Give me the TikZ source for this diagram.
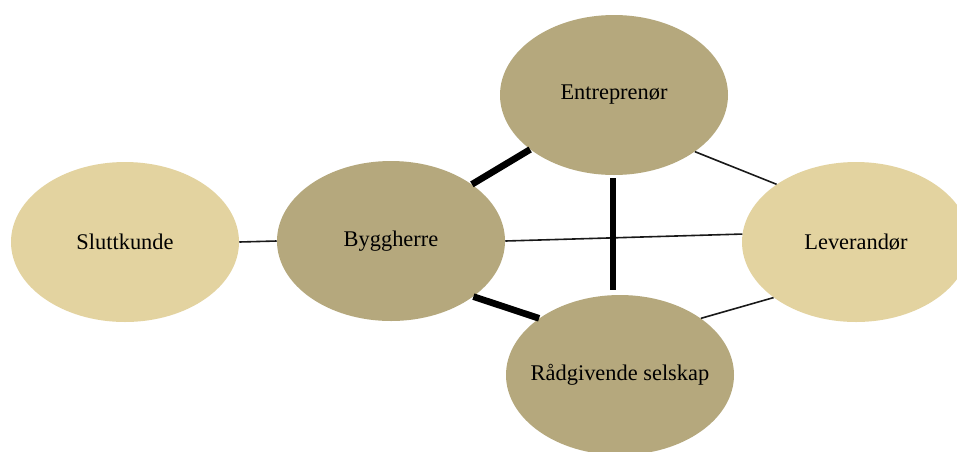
\documentclass[tikz,border=0pt]{standalone}
\usepackage{fontspec}
\setmainfont{Liberation Serif}
\usetikzlibrary{shapes.geometric}
\definecolor{darktan}{RGB}{181,168,125}
\definecolor{lighttan}{RGB}{227,211,160}
\newcommand{\zw}[1]{\makebox[0pt]{#1}}
\tikzset{
  actor/.style={ellipse, minimum width=171pt, minimum height=120pt, inner sep=0pt,
    font=\fontsize{16.8}{20}\selectfont, text=black},
  dark/.style={actor, fill=darktan},
  light/.style={actor, fill=lighttan},
  thinlink/.style={draw=black!90, line width=1.2pt},
  thicklink/.style={draw=black, line width=5pt}
}
\begin{document}
\begin{tikzpicture}[x=0.75pt, y=-0.75pt]
\clip (0,0) rectangle (957,451);
\fill[white] (0,0) rectangle (957,451);
\node[light] (S) at (125,242) {\zw{Sluttkunde}};
\node[dark] (B) at (391,241) {\zw{Byggherre}};
\node[dark] (E) at (614,95) {\zw{Entrepren\o r}};
\node[light] (L) at (856,242) {\zw{Leverand\o r}};
\node[dark] (R) at (620,375) {\zw{Rådgivende selskap}};
\draw[thinlink] (S.east) -- (B.west);
\draw[thinlink] (B.0) -- (L.176.6);
\draw[thinlink] (E.-35) -- (L.144.4);
\draw[thinlink] (R.35) -- (L.214.7);
\draw[thicklink] (B.35.6) -- (E.213.8);
\draw[thicklink] (B.-34.7) -- (R.145.5);
\draw[thicklink, shorten <=2.25pt, shorten >=3.75pt] ([xshift=-0.75pt]E.south) -- ([xshift=-0.75pt]E.south |- R.north);
\end{tikzpicture}
\end{document}
